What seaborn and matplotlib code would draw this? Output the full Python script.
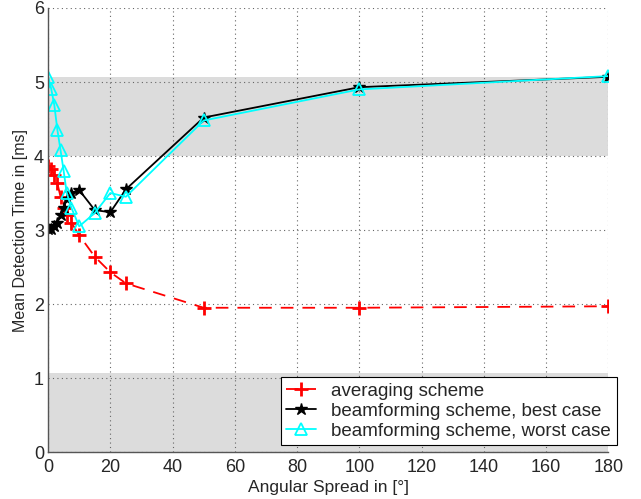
import pandas as pd
import seaborn as sns
import matplotlib.pyplot as plt

# angular spread [deg]
spread = [0, 1, 2, 3, 4, 5, 6, 7.5, 10, 15, 20, 25, 50, 100, 180]

averaging = [3.87, 3.82, 3.75, 3.63, 3.45, 3.30, 3.20, 3.10, 2.93, 2.64, 2.43, 2.28, 1.95, 1.95, 1.97]
best_case = [3.02, 3.02, 3.05, 3.10, 3.20, 3.30, 3.42, 3.50, 3.54, 3.27, 3.24, 3.55, 4.52, 4.93, 5.07]
worst_case = [5.07, 4.91, 4.69, 4.35, 4.08, 3.80, 3.50, 3.30, 3.05, 3.23, 3.50, 3.45, 4.48, 4.90, 5.08]

labels = ["averaging scheme", "beamforming scheme, best case", "beamforming scheme, worst case"]

# shaded bands on the y axis
bands = [(0, 1.07), (4, 5.07)]

df = pd.DataFrame({"spread": spread, "avg": averaging, "best": best_case, "worst": worst_case})

sns.set_style("white")
plt.rcParams["font.family"] = ["Liberation Sans", "DejaVu Sans"]

fig = plt.figure(figsize=(6.41, 4.99), dpi=100)
ax = fig.add_axes([0.075, 0.094, 0.874, 0.89])

for lo, hi in bands:
    ax.axhspan(lo, hi, color="#dcdcdc", zorder=0, lw=0)

sns.lineplot(data=df, x="spread", y="avg", ax=ax, color="red", linestyle=(0, (7, 5)),
             marker="+", markersize=10, markeredgewidth=2, markeredgecolor="red",
             lw=1.3, label=labels[0])
sns.lineplot(data=df, x="spread", y="best", ax=ax, color="black", marker="*",
             markersize=9, markeredgewidth=1, markeredgecolor="black",
             lw=1.3, label=labels[1])
sns.lineplot(data=df, x="spread", y="worst", ax=ax, color="cyan", marker="^",
             markersize=9, markerfacecolor="none", markeredgewidth=1.3,
             markeredgecolor="cyan", lw=1.3, label=labels[2])

ax.set_xlim(0, 180)
ax.set_ylim(0, 6)
ax.set_xticks(range(0, 181, 20))
ax.set_yticks(range(0, 7))
ax.grid(True, linestyle=(0, (1, 3)), color="#666666", lw=0.8)
ax.set_axisbelow(True)
for side in ["top", "right"]:
    ax.spines[side].set_visible(False)
for side in ["left", "bottom"]:
    ax.spines[side].set_color("#555555")
    ax.spines[side].set_linewidth(1)
ax.tick_params(axis="x", labelsize=13, length=0, pad=5)
ax.tick_params(axis="y", labelsize=13, length=0, pad=3)

ax.set_xlabel("Angular Spread in [°]", fontsize=12.5, labelpad=3)
ax.set_ylabel("Mean Detection Time in [ms]", fontsize=11.5, labelpad=4)

leg = ax.legend(loc="lower right", bbox_to_anchor=(1.015, 0.015), fontsize=13.5,
                fancybox=False, framealpha=1, edgecolor="black", borderaxespad=0,
                handlelength=1.6, labelspacing=0.15, borderpad=0.3)
leg.get_frame().set_linewidth(0.8)

fig.savefig("out.png", dpi=100)
